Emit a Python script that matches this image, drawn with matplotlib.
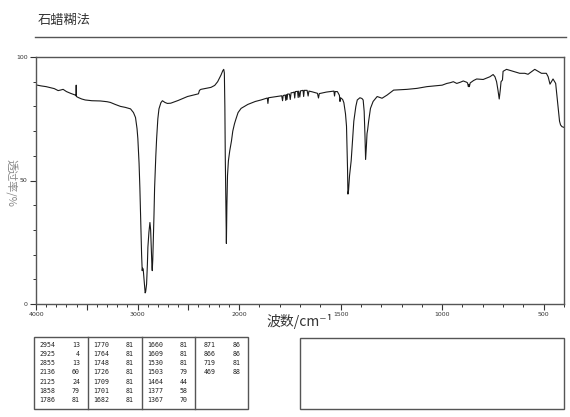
import numpy as np
import matplotlib
matplotlib.use("Agg")
import matplotlib.pyplot as plt
from matplotlib.lines import Line2D
from matplotlib.patches import Rectangle
from matplotlib.ticker import FixedLocator, FixedFormatter

plt.rcParams['font.family'] = ['Noto Sans CJK SC', 'DejaVu Sans']

# ---------------- data ----------------
title = "石蜡糊法"
x_label = "波数/cm⁻¹"
y_label = "透过率/%"

wavenumber = [
    4000, 3950, 3900, 3861, 3820, 3782, 3760, 3733, 3700, 3660, 3614, 3606, 3604, 3602,
    3584, 3550, 3515, 3450, 3366, 3300, 3267, 3220, 3168, 3120, 3069, 3040, 3020, 3005,
    2997, 2985, 2977, 2968, 2960, 2954, 2950, 2944, 2938, 2931, 2925, 2920, 2911, 2903,
    2898, 2888, 2878, 2871, 2864, 2858, 2855, 2850, 2845, 2838, 2832, 2820, 2812, 2800,
    2789, 2770, 2755, 2730, 2706, 2673, 2600, 2508, 2450, 2400, 2390, 2376, 2340, 2277,
    2240, 2211, 2178, 2160, 2151, 2145, 2140, 2136, 2130, 2125, 2120, 2114, 2105, 2092,
    2075, 2062, 2045, 2030, 2010, 1990, 1957, 1920, 1892, 1870, 1861, 1858, 1855, 1830,
    1800, 1790, 1786, 1783, 1773, 1770, 1767, 1764, 1761, 1752, 1748, 1744, 1735, 1729,
    1726, 1723, 1712, 1709, 1706, 1701, 1697, 1690, 1685, 1682, 1679, 1665, 1660, 1656,
    1640, 1614, 1609, 1605, 1598, 1570, 1545, 1533, 1530, 1527, 1516, 1506, 1503, 1500,
    1490, 1484, 1476, 1471, 1466, 1464, 1461, 1456, 1448, 1440, 1435, 1425, 1418, 1405,
    1395, 1389, 1384, 1380, 1377, 1373, 1370, 1367, 1362, 1353, 1340, 1320, 1296, 1271,
    1239, 1200, 1173, 1124, 1075, 1026, 1000, 977, 960, 945, 928, 910, 896, 880,
    875, 871, 868, 866, 862, 845, 830, 798, 780, 765, 749, 740, 732, 725,
    719, 714, 710, 703, 700, 683, 650, 618, 593, 577, 569, 544, 520, 511,
    487, 478, 471, 469, 462, 454, 441, 430, 422, 417, 410, 400,
]
transmittance = [
    88.7, 88.3, 88.0, 87.6, 87.2, 86.4, 86.6, 86.9, 86.0, 85.3, 84.6, 84.3, 88.6, 84.0,
    83.6, 83.0, 82.6, 82.3, 82.2, 81.9, 81.6, 80.8, 80.0, 79.6, 79.0, 77.5, 75.5, 71.0,
    67.0, 57.0, 47.0, 33.0, 20.0, 13.5, 14.5, 14.0, 11.0, 8.0, 4.5, 5.0, 8.0, 16.0,
    23.0, 29.0, 33.0, 30.0, 22.0, 15.0, 13.5, 18.0, 25.0, 36.0, 47.0, 60.0, 67.0, 75.0,
    79.0, 81.5, 82.3, 81.6, 81.2, 81.3, 82.4, 84.0, 84.6, 85.1, 86.5, 86.9, 87.2, 87.7,
    88.5, 90.0, 92.7, 94.5, 95.0, 93.5, 80.0, 60.0, 40.0, 24.5, 40.0, 52.0, 58.0, 62.0,
    66.0, 70.0, 73.0, 75.0, 77.5, 79.2, 80.8, 82.0, 82.6, 83.2, 83.4, 81.2, 83.5, 83.8,
    84.2, 84.3, 82.3, 84.4, 84.6, 82.4, 84.8, 82.8, 85.0, 85.0, 82.8, 85.5, 85.6, 85.8,
    83.4, 86.0, 86.1, 83.6, 86.2, 83.8, 86.3, 86.4, 86.5, 84.0, 86.5, 86.5, 84.2, 86.2,
    85.9, 85.3, 83.4, 85.2, 85.3, 85.8, 86.1, 86.2, 84.2, 86.0, 86.0, 84.5, 82.0, 83.5,
    82.8, 81.5, 77.0, 72.0, 55.0, 44.5, 46.0, 52.0, 58.0, 68.0, 74.0, 80.0, 82.6, 83.5,
    83.2, 82.6, 78.0, 68.0, 58.5, 64.0, 69.0, 70.5, 74.0, 79.2, 82.0, 84.0, 83.3, 84.6,
    86.6, 86.8, 86.9, 87.3, 88.0, 88.4, 88.6, 89.3, 89.6, 90.0, 89.3, 89.8, 90.3, 89.8,
    89.5, 88.0, 88.8, 88.0, 89.5, 90.5, 91.1, 90.9, 91.5, 92.0, 92.9, 92.0, 90.0, 86.5,
    83.0, 86.5, 90.0, 90.7, 94.2, 95.0, 94.2, 93.4, 93.4, 93.0, 93.5, 95.0, 93.8, 93.4,
    93.4, 92.0, 89.8, 89.0, 90.0, 91.1, 89.3, 80.6, 74.0, 72.5, 71.8, 71.5,
]

# peak table (wavenumber, %T), four columns
peak_cols = [
    [(2954, 13), (2925, 4), (2855, 13), (2136, 60), (2125, 24), (1858, 79), (1786, 81)],
    [(1770, 81), (1764, 81), (1748, 81), (1726, 81), (1709, 81), (1701, 81), (1682, 81)],
    [(1660, 81), (1609, 81), (1530, 81), (1503, 79), (1464, 44), (1377, 58), (1367, 70)],
    [(871, 86), (866, 86), (719, 81), (469, 88)],
]

x_major = [4000, 3500, 3000, 2500, 2000, 1500, 1000, 500]
x_major_labels = ["4000", "", "3000", "", "2000", "1500", "1000", "500"]
x_minor = list(range(400, 4001, 100))
y_major = [0, 50, 100]
y_minor = list(range(0, 101, 10))

# ---------------- figure ----------------
W, H = 570, 417
fig = plt.figure(figsize=(W / 100, H / 100), dpi=100)


def fx(x):
    return x / W


def fy(y):
    return 1 - y / H


ax_l, ax_r, ax_t, ax_b = 36, 564, 57, 304
ax = fig.add_axes([fx(ax_l), fy(ax_b), (ax_r - ax_l) / W, (ax_b - ax_t) / H])


# split scale: 4000-2000 compressed, 2000-400 expanded x2
def fwd(w):
    w = np.asarray(w, dtype=float)
    return np.where(w >= 2000, w, 2 * w - 2000)


def inv(u):
    u = np.asarray(u, dtype=float)
    return np.where(u >= 2000, u, (u + 2000) / 2)


ax.set_xscale('function', functions=(fwd, inv))
ax.plot(wavenumber, transmittance, color='#1a1a1a', lw=0.8)
ax.set_xlim(4000, 400)
ax.set_ylim(0, 100)

ax.xaxis.set_major_locator(FixedLocator(x_major))
ax.xaxis.set_major_formatter(FixedFormatter(x_major_labels))
ax.xaxis.set_minor_locator(FixedLocator(x_minor))
ax.yaxis.set_major_locator(FixedLocator(y_major))
ax.yaxis.set_minor_locator(FixedLocator(y_minor))

ax.tick_params(axis='both', which='major', direction='out', length=4, width=0.8,
               colors='#333333', labelsize=4.5, pad=2)
ax.tick_params(axis='both', which='minor', direction='out', length=2.5, width=0.7,
               colors='#333333')
for lab in ax.get_xticklabels() + ax.get_yticklabels():
    lab.set_family('DejaVu Sans')
for s in ax.spines.values():
    s.set_color('#555555')
    s.set_linewidth(1.0)

ax.set_xlabel(x_label, fontsize=10, color='#333333')
ax.xaxis.set_label_coords(0.5, -0.07)
ax.xaxis.label.set_va('center')
ax.set_ylabel(y_label, fontsize=8, color='#888888', rotation=270)
ax.yaxis.set_label_coords((11 - ax_l) / (ax_r - ax_l), 0.49)
ax.yaxis.label.set_va('center')

# title and rule
fig.text(fx(38), fy(20), title, fontsize=9.5, color='#333333', ha='left', va='center')
fig.add_artist(Line2D([fx(35), fx(566)], [fy(37), fy(37)], color='#555555', lw=1.0))

# peak table box
tb_l, tb_t, tb_b = 34, 337, 409
col_edges = [34, 88, 142, 195, 248]
fig.add_artist(Rectangle((fx(tb_l), fy(tb_b)), (col_edges[-1] - tb_l) / W, (tb_b - tb_t) / H,
                         fill=False, edgecolor='#555555', lw=1.0))
for xe in col_edges[1:-1]:
    fig.add_artist(Line2D([fx(xe), fx(xe)], [fy(tb_t), fy(tb_b)], color='#555555', lw=1.0))
row_y = [345, 354, 363, 372, 382, 391, 400]
for ci, col in enumerate(peak_cols):
    x0 = col_edges[ci]
    for ri, (wn, t) in enumerate(col):
        fig.text(fx(x0 + 21), fy(row_y[ri]), str(wn), fontsize=4.8, ha='right', va='center',
                 family='DejaVu Sans Mono', color='#222222')
        fig.text(fx(x0 + 46), fy(row_y[ri]), str(t), fontsize=4.8, ha='right', va='center',
                 family='DejaVu Sans Mono', color='#222222')

# empty right box
fig.add_artist(Rectangle((fx(300), fy(409)), (564 - 300) / W, (409 - 338) / H,
                         fill=False, edgecolor='#555555', lw=1.0))

fig.savefig("out.png", dpi=100)
